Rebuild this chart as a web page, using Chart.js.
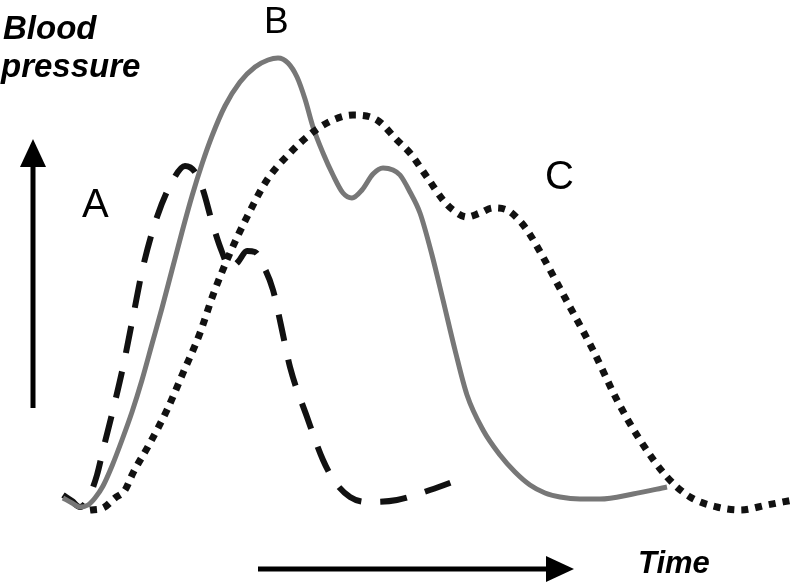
<!DOCTYPE html>
<html>
<head>
<meta charset="utf-8">
<script src="https://cdn.jsdelivr.net/npm/chart.js@4/dist/chart.umd.min.js"></script>
<style>
  html, body { margin: 0; padding: 0; background: #fff; }
  #wrap { width: 800px; height: 584px; }
</style>
</head>
<body>
<div id="wrap"><canvas id="bp" width="800" height="584"></canvas></div>
<script>
// time (x) and pressure (y)
const curveA_t = [63, 72, 80, 88, 97, 103, 113, 123, 133, 143, 157, 173, 185, 195, 203, 212, 222, 230, 238, 247, 255, 263, 273, 282, 290, 307, 323, 335, 350, 367, 397, 430, 463];
const curveA_p = [89, 83, 77, 85, 109, 134, 174, 217, 267, 317, 367, 404, 418, 412, 394, 362, 332, 316, 322, 333, 332, 319, 294, 254, 217, 167, 124, 102, 87, 82, 84, 94, 106];

const curveB_t = [63, 72, 80, 88, 95, 103, 112, 122, 132, 142, 152, 162, 172, 182, 192, 202, 212, 225, 240, 255, 268, 278, 288, 297, 305, 313, 323, 333, 343, 352, 362, 373, 383, 393, 400, 410, 420, 432, 443, 455, 467, 483, 500, 515, 530, 545, 560, 580, 600, 633, 667];
const curveB_p = [86, 81, 77, 79, 86, 98, 118, 144, 172, 204, 240, 276, 314, 352, 388, 420, 448, 478, 502, 517, 524, 526, 521, 507, 485, 457, 431, 409, 391, 386, 394, 410, 416, 414, 409, 392, 371, 329, 284, 234, 189, 154, 129, 112, 99, 91, 87, 85, 85, 90, 97];

const curveC_t = [90, 103, 115, 125, 133, 150, 167, 183, 200, 213, 230, 247, 267, 290, 313, 333, 353, 377, 397, 410, 427, 443, 453, 467, 480, 493, 507, 517, 527, 543, 557, 570, 593, 617, 640, 667, 690, 717, 740, 767, 793];
const curveC_p = [74, 76, 86, 94, 111, 141, 174, 211, 251, 289, 331, 367, 404, 431, 452, 464, 469, 464, 444, 431, 407, 384, 374, 367, 371, 376, 374, 366, 354, 327, 301, 277, 234, 184, 144, 107, 87, 77, 74, 79, 84];

const seriesNames = ['A', 'B', 'C'];

function pts(t, p) {
    return t.map((x, i) => ({ x: x, y: p[i] }));
}

// arrows + text labels
const decorations = {
    id: 'decorations',
    afterDraw(chart) {
        const ctx = chart.ctx;
        ctx.save();
        ctx.fillStyle = '#000';
        ctx.strokeStyle = '#000';

        // vertical arrow
        ctx.lineWidth = 5;
        ctx.beginPath();
        ctx.moveTo(33, 408);
        ctx.lineTo(33, 160);
        ctx.stroke();
        ctx.beginPath();
        ctx.moveTo(33, 139);
        ctx.lineTo(20, 167);
        ctx.lineTo(46, 167);
        ctx.closePath();
        ctx.fill();

        // horizontal arrow
        ctx.beginPath();
        ctx.moveTo(258, 569);
        ctx.lineTo(552, 569);
        ctx.stroke();
        ctx.beginPath();
        ctx.moveTo(574, 569);
        ctx.lineTo(546, 556);
        ctx.lineTo(546, 582);
        ctx.closePath();
        ctx.fill();

        ctx.textBaseline = 'alphabetic';
        ctx.textAlign = 'left';
        ctx.font = 'italic bold 33px "Liberation Sans", Arial, sans-serif';
        ctx.fillText('Blood', 3, 39);
        ctx.fillText('pressure', 1, 77);
        ctx.font = 'italic bold 31px "Liberation Sans", Arial, sans-serif';
        ctx.fillText('Time', 638, 573);

        ctx.font = '40px "Liberation Sans", Arial, sans-serif';
        ctx.fillText(seriesNames[0], 82, 217);
        ctx.fillText(seriesNames[2], 545, 189);
        ctx.font = '37px "Liberation Sans", Arial, sans-serif';
        ctx.fillText(seriesNames[1], 264, 33);
        ctx.restore();
    }
};

new Chart(document.getElementById('bp'), {
    type: 'line',
    data: {
        datasets: [
            {
                label: seriesNames[2],
                data: pts(curveC_t, curveC_p),
                borderColor: '#111',
                borderWidth: 7,
                borderDash: [7, 7],
                borderCapStyle: 'butt',
                pointRadius: 0,
                cubicInterpolationMode: 'monotone'
            },
            {
                label: seriesNames[1],
                data: pts(curveB_t, curveB_p),
                borderColor: '#777',
                borderWidth: 5,
                pointRadius: 0,
                cubicInterpolationMode: 'monotone'
            },
            {
                label: seriesNames[0],
                data: pts(curveA_t, curveA_p),
                borderColor: '#111',
                borderWidth: 6,
                borderDash: [27, 19],
                pointRadius: 0,
                cubicInterpolationMode: 'monotone'
            }
        ]
    },
    options: {
        responsive: false,
        animation: false,
        devicePixelRatio: 1,
        layout: { padding: 0 },
        clip: false,
        plugins: { legend: { display: false }, tooltip: { enabled: false } },
        scales: {
            x: { type: 'linear', min: 0, max: 800, display: false },
            y: { min: 0, max: 584, display: false }
        }
    },
    plugins: [decorations]
});
</script>
</body>
</html>
